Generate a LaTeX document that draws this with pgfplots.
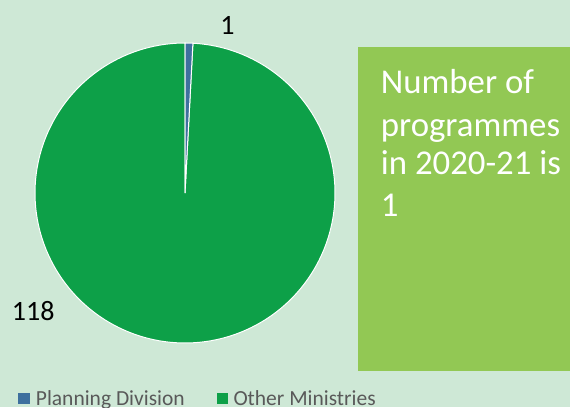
\documentclass[border=0pt]{standalone}
\usepackage{fontspec}
\setmainfont{Carlito}
\usepackage{pgfplots}
\usepackage{pgfplotstable}
\pgfplotsset{compat=1.18}
\definecolor{bg}{RGB}{206,232,214}
\definecolor{piegreen}{RGB}{13,160,72}
\definecolor{pieblue}{RGB}{62,112,158}
\definecolor{boxgreen}{RGB}{146,200,84}
\definecolor{legtext}{RGB}{89,89,89}
\pgfplotstableread{
name value
Planning 1
Other 118
}\piedata
\begin{document}
\begin{tikzpicture}[x=1pt,y=1pt]
\pgfplotstablegetelem{0}{value}\of\piedata \let\va\pgfplotsretval
\pgfplotstablegetelem{1}{value}\of\piedata \let\vb\pgfplotsretval
\pgfmathsetmacro\tot{\va+\vb}
\pgfmathsetmacro\angA{90-360*\va/\tot}
\fill[bg] (0,0) rectangle (570,407);
\fill[boxgreen] (358.3,36) rectangle (570,360.3);
\begin{axis}[x=1pt,y=1pt,hide axis,xmin=0,xmax=570,ymin=0,ymax=407,
  anchor=origin,at={(0,0)},clip=false]
\addplot[draw=white, line width=1pt, fill=piegreen, domain=-270:\angA, samples=240]
  ({185+150*cos(x)},{214+150*sin(x)}) -- (axis cs:185,214) -- cycle;
\addplot[draw=white, line width=1pt, fill=pieblue, domain=\angA:90, samples=12]
  ({185+150*cos(x)},{214+150*sin(x)}) -- (axis cs:185,214) -- cycle;
\end{axis}
\node[anchor=base, inner sep=0, font=\fontsize{28}{32}\selectfont] at (227.5,372) {\va};
\node[anchor=base west, inner sep=0, font=\fontsize{28}{32}\selectfont] at (11.7,86) {\vb};
\begin{scope}[every node/.style={anchor=base west, inner sep=0, text=white, font=\fontsize{34.8}{40}\selectfont}]
\node at (380.7,313.7) {Number of};
\node at (380.7,270.3) {programmes};
\node at (380.7,232) {in 2020-21 is};
\node at (380.7,190.3) {1};
\end{scope}
\fill[pieblue] (18.3,2.7) rectangle (30,14.3);
\fill[piegreen] (216.7,2.7) rectangle (227.7,14.3);
\begin{scope}[every node/.style={anchor=base west, inner sep=0, text=legtext, font=\fontsize{21.5}{26}\selectfont}]
\node at (35.7,1.5) {Planning Division};
\node at (233.3,1.5) {Other Ministries};
\end{scope}
\pgfresetboundingbox
\useasboundingbox (0,0) rectangle (570,407);
\end{tikzpicture}
\end{document}
